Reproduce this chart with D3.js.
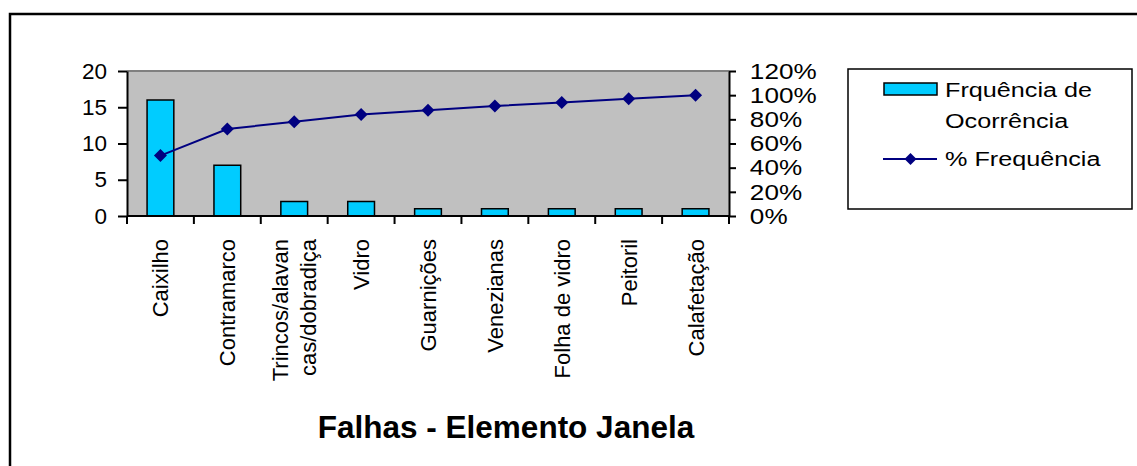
<!DOCTYPE html>
<html>
<head>
<meta charset="utf-8">
<script src="https://cdn.jsdelivr.net/npm/d3@7"></script>
<style>
  body { margin: 0; background: #fff; }
  svg text { font-family: "Liberation Sans", Arial, sans-serif; fill: #000; }
</style>
</head>
<body>
<div id="chart"></div>
<script>
const WIDTH = 1137;
const HEIGHT = 466;

const PLOT = { LEFT: 127, RIGHT: 729, TOP: 71, BOTTOM: 216 };

// data
const categories = ["Caixilho", "Contramarco", "Trincos/alavancas/dobradiça", "Vidro", "Guarnições",
  "Venezianas", "Folha de vidro", "Peitoril", "Calafetação"];
const tickLabels = [["Caixilho"], ["Contramarco"], ["Trincos/alavan", "cas/dobradiça"], ["Vidro"],
  ["Guarnições"], ["Venezianas"], ["Folha de vidro"], ["Peitoril"], ["Calafetação"]];
const frequencia = [16, 7, 2, 2, 1, 1, 1, 1, 1];
const percentual = [0.50, 0.72, 0.78, 0.84, 0.875, 0.91, 0.94, 0.97, 1.00];
const leftTicks = [0, 5, 10, 15, 20];
const rightTicks = [0, 0.2, 0.4, 0.6, 0.8, 1.0, 1.2];
const legendLabels = [["Frquência de", "Ocorrência"], ["% Frequência"]];
const title = "Falhas - Elemento Janela";

const svg = d3
  .select("#chart")
  .append("svg")
  .attr("width", WIDTH)
  .attr("height", HEIGHT);

svg.append("rect").attr("width", WIDTH).attr("height", HEIGHT).style("fill", "#fff");

// outer chart border (right and bottom edges fall outside the window)
svg.append("rect")
  .attr("x", 10).attr("y", 14)
  .attr("width", 1200).attr("height", 500)
  .style("fill", "none").style("stroke", "#000").style("stroke-width", 2.5);

const x = d3.scaleBand().domain(categories).range([PLOT.LEFT, PLOT.RIGHT]);
const yLeft = d3.scaleLinear().domain([0, 20]).range([PLOT.BOTTOM, PLOT.TOP]);
const yRight = d3.scaleLinear().domain([0, 1.2]).range([PLOT.BOTTOM, PLOT.TOP]);

// plot area
svg.append("rect")
  .attr("x", PLOT.LEFT).attr("y", PLOT.TOP)
  .attr("width", PLOT.RIGHT - PLOT.LEFT).attr("height", PLOT.BOTTOM - PLOT.TOP)
  .style("fill", "#c0c0c0");
svg.append("line")
  .attr("x1", PLOT.LEFT).attr("x2", PLOT.RIGHT)
  .attr("y1", PLOT.TOP).attr("y2", PLOT.TOP)
  .style("stroke", "#808080").style("stroke-width", 2);

// bars
const barW = x.bandwidth() * 0.4;
svg.append("g")
  .selectAll("rect")
  .data(categories)
  .enter()
  .append("rect")
  .attr("x", (d) => x(d) + x.bandwidth() / 2 - barW / 2)
  .attr("y", (d, i) => yLeft(frequencia[i]))
  .attr("width", barW)
  .attr("height", (d, i) => PLOT.BOTTOM - yLeft(frequencia[i]))
  .style("fill", "#00ccff")
  .style("stroke", "#000")
  .style("stroke-width", 1.5);

// left axis
svg.append("g")
  .attr("transform", `translate(${PLOT.LEFT}, 0)`)
  .call(d3.axisLeft(yLeft).tickValues(leftTicks).tickSize(9).tickSizeOuter(0).tickPadding(11))
  .call((g) => {
    g.select(".domain").style("stroke", "#000").style("stroke-width", 2);
    g.selectAll(".tick line").style("stroke", "#000").style("stroke-width", 2);
    g.selectAll("text").style("font-size", "22.5px").attr("fill", "#000");
  });

// right axis
svg.append("g")
  .attr("transform", `translate(${PLOT.RIGHT}, 0)`)
  .call(d3.axisRight(yRight).tickValues(rightTicks).tickFormat(d3.format(".0%")).tickSize(7).tickSizeOuter(0).tickPadding(11))
  .call((g) => {
    g.select(".domain").style("stroke", "#000").style("stroke-width", 2);
    g.selectAll(".tick line").style("stroke", "#000").style("stroke-width", 2);
    g.selectAll("text").style("font-size", "22.5px").attr("fill", "#000")
      .attr("transform", "scale(1.16,1)");
  });

// bottom axis line and category ticks at band edges
svg.append("line")
  .attr("x1", PLOT.LEFT).attr("x2", PLOT.RIGHT)
  .attr("y1", PLOT.BOTTOM).attr("y2", PLOT.BOTTOM)
  .style("stroke", "#000").style("stroke-width", 2);
svg.append("g")
  .selectAll("line")
  .data(categories.concat(["end"]))
  .enter()
  .append("line")
  .attr("x1", (d, i) => (i < categories.length ? x(d) : PLOT.RIGHT))
  .attr("x2", (d, i) => (i < categories.length ? x(d) : PLOT.RIGHT))
  .attr("y1", PLOT.BOTTOM)
  .attr("y2", PLOT.BOTTOM + 8)
  .style("stroke", "#000").style("stroke-width", 2);

// rotated category labels
const catLabels = svg.append("g")
  .selectAll("text")
  .data(categories)
  .enter()
  .append("text")
  .attr("transform", (d) => `translate(${x(d) + x.bandwidth() / 2}, ${PLOT.BOTTOM + 23}) rotate(-90)`)
  .attr("text-anchor", "end")
  .style("font-size", "22px");
catLabels.each(function (d, i) {
  const lines = tickLabels[i];
  const lh = 28;
  const start = -((lines.length - 1) * lh) / 2;
  d3.select(this)
    .selectAll("tspan")
    .data(lines)
    .enter()
    .append("tspan")
    .attr("x", 0)
    .attr("y", (l, j) => start + j * lh + 8)
    .text((l) => l);
});

// cumulative line
const line = d3.line()
  .x((d) => x(d) + x.bandwidth() / 2)
  .y((d, i) => yRight(percentual[i]));
svg.append("path")
  .datum(categories)
  .attr("d", line)
  .style("fill", "none")
  .style("stroke", "#000080")
  .style("stroke-width", 2);

const diamond = "M0,-6.5L6.5,0L0,6.5L-6.5,0Z";
svg.append("g")
  .selectAll("path")
  .data(categories)
  .enter()
  .append("path")
  .attr("d", diamond)
  .attr("transform", (d, i) => `translate(${x(d) + x.bandwidth() / 2}, ${yRight(percentual[i])})`)
  .style("fill", "#000080");

// legend
const legend = svg.append("g");
legend.append("rect")
  .attr("x", 848).attr("y", 69)
  .attr("width", 284).attr("height", 140)
  .style("fill", "#fff").style("stroke", "#000").style("stroke-width", 1.5);
legend.append("rect")
  .attr("x", 884).attr("y", 83)
  .attr("width", 53).attr("height", 12)
  .style("fill", "#00ccff").style("stroke", "#000").style("stroke-width", 1.5);
legend.append("line")
  .attr("x1", 883).attr("x2", 937).attr("y1", 159).attr("y2", 159)
  .style("stroke", "#000080").style("stroke-width", 2);
legend.append("path")
  .attr("d", "M0,-6L6,0L0,6L-6,0Z")
  .attr("transform", "translate(910.5, 159)")
  .style("fill", "#000080");
const legendBaselines = [[97, 128], [166]];
legendLabels.forEach((lines, i) => {
  lines.forEach((l, j) => {
    legend.append("text")
      .attr("transform", `translate(945, ${legendBaselines[i][j]}) scale(1.2,1)`)
      .style("font-size", "21px")
      .text(l);
  });
});

// title
svg.append("text")
  .attr("x", 506)
  .attr("y", 438)
  .attr("text-anchor", "middle")
  .style("font-size", "31.5px")
  .style("font-weight", "bold")
  .text(title);
</script>
</body>
</html>
